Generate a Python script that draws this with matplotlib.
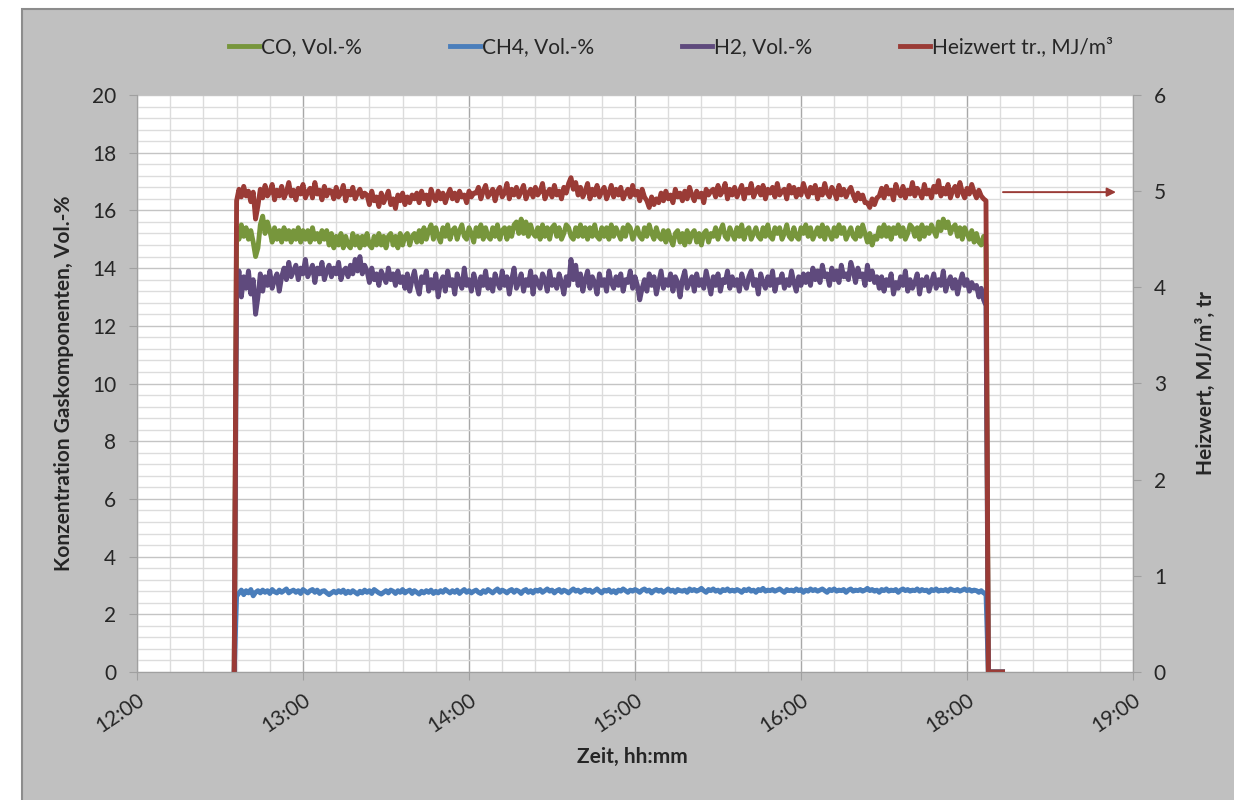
import numpy as np
import matplotlib.pyplot as plt
from matplotlib.patches import Rectangle
from matplotlib.lines import Line2D
from matplotlib.ticker import MultipleLocator, FixedLocator

plt.rcParams['font.family'] = ['Lato', 'DejaVu Sans']

# Zeitachse in Minuten ab 12:00
zeit_start = 42      # erster Messwert
zeit_ende = 358      # letzter Messwert
zeit_null_vor = 41   # Messung aus (0)
zeit_null_nach = 359
zeit_null_ende = 365

tick_minuten = [0, 70, 140, 210, 280, 350, 420]
tick_labels = ['12:00', '13:00', '14:00', '15:00', '16:00', '18:00', '19:00']

# CO, Vol.-%
co = [
    15.4, 15.0, 15.5, 15.1, 15.4, 15.0, 15.3, 14.9,
    14.4, 14.7,
    15.5, 15.8, 15.2, 15.6,
    15.3, 14.9, 15.4, 15.0, 15.3, 14.9, 15.4, 15.0, 15.3, 14.9, 15.3, 15.0, 15.4, 14.9, 15.3, 15.0, 15.3, 14.9, 15.4, 15.0,
    15.2, 14.9, 15.3, 15.0, 15.3,
    14.8, 15.2, 14.7, 15.1, 14.8, 15.2, 14.7, 15.1, 14.8, 14.7, 15.2, 14.8, 15.1, 14.7, 15.1, 14.8, 15.2, 14.8, 14.7, 15.1,
    14.8, 15.2, 14.8, 15.1, 14.7, 15.1, 15.2, 14.8, 15.1, 14.7, 15.2, 14.8, 15.1, 15.2, 14.8, 15.1, 15.2, 14.9, 15.3, 14.9,
    15.4, 15.0, 15.3, 15.5, 15.0, 15.4, 15.1, 14.9, 15.4, 15.1, 15.5, 15.0, 15.3, 15.4, 15.0, 15.3, 15.5, 15.1, 15.0, 15.4,
    15.2, 14.9, 15.4, 15.1, 15.5, 15.0, 15.4, 15.1, 15.0, 15.4, 15.1, 15.5, 15.0, 15.3, 15.4, 15.0, 15.4, 15.1, 15.5,
    15.6, 15.2, 15.7, 15.2, 15.6, 15.1, 15.5, 15.2,
    15.1, 15.4, 15.0, 15.5, 15.1, 15.4, 15.0, 15.4, 15.5, 15.1, 15.4, 15.0, 15.2, 15.5, 15.4, 15.1, 15.0, 15.4, 15.1, 15.5,
    15.1, 15.4, 15.0, 15.4, 15.1, 15.5, 15.1, 15.0, 15.4, 15.1, 15.4, 15.0, 15.5, 15.1, 15.4, 15.2, 15.0, 15.4, 15.1, 15.5,
    15.4, 15.0, 15.2, 15.4, 15.1, 15.0, 15.4, 15.1, 15.5, 15.2, 15.0, 15.4, 15.1, 15.0, 15.3,
    14.9, 15.3, 15.0, 14.8, 15.2, 15.3, 14.9, 15.2, 14.8, 15.3, 14.9, 15.2, 15.3, 14.9, 15.2, 14.8, 15.2, 15.3, 14.9, 15.2,
    15.1, 15.4, 15.0, 15.3, 15.5, 15.1, 15.0, 15.4, 15.2, 15.0, 15.4, 15.1, 15.5, 15.0, 15.3, 15.4, 15.0, 15.2, 15.4, 15.1,
    15.0, 15.4, 15.1, 15.5, 15.1, 15.0, 15.4, 15.2, 15.4, 15.0, 15.2, 15.5, 15.1, 15.0, 15.4, 15.1, 15.0, 15.4, 15.2, 15.5,
    15.1, 15.4, 15.0, 15.2, 15.4, 15.1, 15.5, 15.0, 15.4, 15.2, 15.0, 15.4, 15.1, 15.5, 15.2, 15.4, 15.0, 15.2, 15.4, 15.1,
    15.0, 15.4, 15.1, 15.5, 15.2,
    14.9, 15.2, 14.8, 15.1, 15.0,
    15.4, 15.1, 15.5, 15.1, 15.4, 15.0, 15.4, 15.2, 15.5, 15.1, 15.4, 15.0, 15.2, 15.5, 15.4, 15.1, 15.4, 15.0, 15.5, 15.1,
    15.4, 15.2, 15.5, 15.3, 15.1,
    15.6, 15.3, 15.7, 15.4, 15.6, 15.2,
    15.4, 15.5, 15.1, 15.4, 15.0, 15.4, 15.2, 15.0, 15.3, 14.9, 15.2, 14.9, 14.8, 15.1, 14.8,
]

# CH4, Vol.-%
ch4 = [
    2.62, 2.74, 2.84, 2.68, 2.82, 2.74, 2.86, 2.64, 2.76,
    2.82, 2.74, 2.84, 2.76, 2.82, 2.72, 2.86, 2.78, 2.74, 2.84, 2.76, 2.82, 2.88, 2.74, 2.80, 2.84, 2.76, 2.82, 2.72, 2.86,
    2.80, 2.74, 2.82, 2.86, 2.76, 2.84, 2.72, 2.80, 2.82, 2.74, 2.68, 2.74, 2.80, 2.74, 2.82, 2.76, 2.84, 2.72, 2.80, 2.74,
    2.82, 2.76, 2.70, 2.80, 2.74, 2.84, 2.76, 2.82, 2.72, 2.86, 2.80, 2.74, 2.70, 2.76, 2.82, 2.74, 2.84, 2.80, 2.72, 2.82,
    2.76, 2.86, 2.74, 2.80, 2.84, 2.72, 2.82, 2.76, 2.70, 2.80, 2.74, 2.82, 2.76, 2.84, 2.72, 2.80, 2.74, 2.82, 2.76, 2.86,
    2.80, 2.74, 2.82, 2.76, 2.84, 2.72, 2.80, 2.86, 2.76, 2.82, 2.74, 2.80, 2.84, 2.76, 2.72, 2.82, 2.76, 2.86, 2.80, 2.74,
    2.82, 2.88, 2.76, 2.84, 2.80, 2.74, 2.82, 2.86, 2.76, 2.84, 2.80, 2.72, 2.82, 2.86, 2.76, 2.82, 2.74, 2.84, 2.80, 2.86,
    2.76, 2.82, 2.88, 2.80, 2.84, 2.74, 2.82, 2.86, 2.76, 2.84, 2.80, 2.74, 2.82, 2.88, 2.80, 2.84, 2.76, 2.82, 2.86, 2.80,
    2.84, 2.76, 2.82, 2.88, 2.80, 2.74, 2.84, 2.80, 2.86, 2.76, 2.82, 2.74, 2.84, 2.80, 2.88, 2.82, 2.76, 2.84, 2.80, 2.86,
    2.82, 2.76, 2.84, 2.88, 2.80, 2.84, 2.74, 2.82, 2.86, 2.80, 2.84, 2.76, 2.82, 2.88, 2.80, 2.84, 2.76, 2.86, 2.82, 2.80,
    2.84, 2.76, 2.88, 2.82, 2.86, 2.80, 2.84, 2.90, 2.82, 2.76, 2.86, 2.82, 2.88, 2.80, 2.84, 2.76, 2.86, 2.82, 2.88, 2.80,
    2.84, 2.80, 2.86, 2.82, 2.76, 2.86, 2.82, 2.88, 2.80, 2.84, 2.76, 2.86, 2.82, 2.90, 2.80, 2.84, 2.82, 2.86, 2.80, 2.84,
    2.88, 2.82, 2.76, 2.86, 2.82, 2.84, 2.80, 2.88, 2.82, 2.86, 2.76, 2.84, 2.80, 2.88, 2.82, 2.86, 2.80, 2.84, 2.88, 2.82,
    2.76, 2.86, 2.82, 2.88, 2.80, 2.84, 2.82, 2.86, 2.76, 2.84, 2.88, 2.80, 2.84, 2.82, 2.86, 2.80, 2.84, 2.90, 2.82, 2.86,
    2.80, 2.84, 2.76, 2.86, 2.82, 2.88, 2.80, 2.84, 2.82, 2.86, 2.76, 2.84, 2.88, 2.82, 2.86, 2.80, 2.84, 2.82, 2.88, 2.80,
    2.86, 2.82, 2.84, 2.76, 2.86, 2.82, 2.88, 2.80, 2.84, 2.82, 2.86, 2.80, 2.88, 2.84, 2.82, 2.86, 2.80, 2.84, 2.88, 2.82,
    2.86, 2.80, 2.84, 2.82, 2.76, 2.82, 2.74, 2.72,
]

# H2, Vol.-%
h2 = [
    13.2, 13.9, 13.0, 13.7, 13.3, 13.9, 13.1, 13.6,
    12.4, 13.0,
    13.8, 13.2, 13.7, 13.4, 13.9, 13.3, 13.6, 13.8, 13.2, 13.7,
    14.0, 13.6, 14.2, 13.7, 13.9, 14.1, 13.6, 14.0, 13.8, 14.3, 13.7, 13.9, 14.1, 13.5, 14.0, 13.8, 14.2, 13.6, 13.9, 14.1,
    13.7, 14.0, 13.8, 14.2, 13.6, 13.9, 14.0, 13.7, 14.1, 13.8, 14.3, 13.9, 14.4, 13.8, 14.1,
    13.9, 13.5, 14.0, 13.6, 13.8, 13.4, 13.9, 13.7, 13.5, 14.0, 13.6, 13.8, 13.4, 13.9, 13.5, 13.7,
    13.3, 13.8, 13.2, 13.6, 13.9, 13.4, 13.1, 13.7, 13.5, 13.9, 13.2, 13.6, 13.3, 13.8, 13.0, 13.5, 13.7, 13.2, 13.9, 13.4,
    13.6, 13.1, 13.8, 13.5, 13.3, 14.0, 13.4, 13.6, 13.2, 13.8, 13.5, 13.1, 13.7, 13.4, 13.9, 13.3, 13.6, 13.2, 13.8, 13.5,
    13.3, 13.9, 13.4, 13.7, 13.1, 13.6, 14.0, 13.3, 13.5, 13.8, 13.2, 13.6, 13.4, 13.9, 13.1, 13.7, 13.5, 13.3, 13.8, 13.6,
    13.2, 13.9, 13.4, 13.6, 13.3, 13.8, 13.5, 13.1, 13.7, 13.4,
    14.3, 13.6, 14.1,
    13.4, 13.8, 13.2, 13.6, 13.9, 13.3, 13.7, 13.5, 13.1, 13.8, 13.4, 13.6, 13.2, 13.9, 13.5, 13.3, 13.7, 13.4, 13.8, 13.2,
    13.6, 13.5, 13.9, 13.3, 13.7, 13.4,
    12.9, 13.3,
    13.6, 13.2, 13.8, 13.4, 13.7, 13.1, 13.5, 13.9, 13.3, 13.6, 13.4, 13.8, 13.2, 13.7, 13.5, 13.0, 13.6, 13.9, 13.3, 13.5,
    13.7, 13.2, 13.8, 13.4, 13.6, 13.3, 13.9, 13.5, 13.1, 13.7, 13.4, 13.8, 13.2, 13.6, 13.5, 13.9, 13.3, 13.7, 13.4, 13.6,
    13.2, 13.8, 13.5, 13.3, 13.7, 13.9, 13.4, 13.6, 13.1, 13.8, 13.5, 13.3, 13.7, 13.4, 13.9, 13.2, 13.6, 13.5, 13.8, 13.3,
    13.6, 13.4, 13.9, 13.5, 13.2, 13.7, 13.4, 13.8, 13.5,
    13.8, 13.4, 14.0, 13.6, 13.9, 13.5, 14.1, 13.7, 13.8, 13.4, 14.0, 13.6, 13.9, 13.5, 14.1, 13.7, 13.8, 13.6, 14.2, 13.9,
    13.5, 14.0, 13.7, 13.8, 13.4, 14.1, 13.6, 13.9, 13.5, 13.7,
    13.3, 13.7, 13.2, 13.6, 13.4, 13.8, 13.1, 13.5, 13.3, 13.7, 13.4, 13.9, 13.2, 13.6, 13.3, 13.5, 13.8, 13.1, 13.6, 13.4,
    13.7, 13.2, 13.5, 13.8, 13.3, 13.6, 13.4, 13.9, 13.2, 13.5, 13.7, 13.3, 13.6, 13.1, 13.5, 13.8, 13.4, 13.6, 13.2, 13.5,
    13.3,
    13.4, 13.0, 13.3, 12.9, 12.7,
]

# Heizwert tr., MJ/m3 (rechte Achse)
heizwert = [
    4.90, 5.02, 4.94, 5.05, 4.95, 5.00, 4.89, 4.99,
    4.71, 4.85,
    5.02, 4.93, 5.06, 4.95, 4.99, 5.07, 4.91, 5.01, 4.95, 5.05, 4.93, 4.99, 5.09, 4.95, 5.01, 4.91, 5.03, 4.97, 5.07, 4.93,
    4.99, 5.03, 4.93, 5.09, 4.97, 5.01, 4.91, 5.05, 4.95, 5.01,
    5.00, 4.92, 5.04, 4.94, 4.98, 5.06, 4.90, 5.00, 4.96, 5.04, 4.92, 4.98, 5.02, 4.94, 4.98,
    4.96, 4.86, 5.00, 4.90, 4.94, 4.84, 4.98, 4.88, 4.94, 5.00, 4.86, 4.92, 4.82, 4.96, 4.90, 4.98, 4.86, 4.94, 4.88, 4.96,
    4.92,
    4.98, 4.88, 5.00, 4.92, 4.96, 4.86, 5.02, 4.94, 4.90, 5.00, 4.92, 4.98, 4.88, 4.96, 5.02, 4.92, 4.98, 4.90, 5.00, 4.94,
    4.96, 4.88, 5.00, 4.94, 4.98,
    4.98, 5.04, 4.92, 5.00, 5.06, 4.94, 4.98, 5.02, 4.90, 5.00, 5.04, 4.94, 4.98, 5.08, 4.92, 5.02, 4.96, 5.04, 4.94, 5.00,
    5.06, 4.92, 4.98, 5.02, 4.94, 5.04, 4.96, 5.00, 5.08, 4.92, 4.98, 5.02, 4.94, 5.06, 4.96, 5.00, 4.92, 5.04, 4.98, 5.08,
    5.14, 5.02, 5.09,
    4.96, 5.04, 4.94, 5.00, 5.08, 4.92, 5.02, 4.96, 5.06, 4.94, 5.00, 5.04, 4.92, 4.98, 5.06, 4.94, 5.02, 4.96, 5.04, 4.92,
    4.98, 5.02, 4.94, 5.06, 4.96, 5.00, 4.90, 5.02, 4.94,
    4.90, 4.83, 4.94, 4.86, 4.92, 4.88,
    4.98, 4.90, 5.00, 4.92, 4.96, 4.88, 5.02, 4.94, 4.98, 4.90, 5.00, 4.92, 5.04, 4.96, 4.90, 5.00, 4.94, 4.98, 4.88, 5.02,
    4.96, 5.00,
    5.02, 4.94, 5.06, 4.96, 5.00, 5.08, 4.92, 5.02, 4.96, 5.04, 4.94, 5.00, 5.06, 4.92, 5.02, 4.98, 5.08, 4.94, 5.00, 5.04,
    4.96, 5.06, 4.92, 5.02, 4.98, 5.04, 4.94, 5.08, 4.96, 5.00, 5.02, 4.92, 5.06, 4.98, 5.04, 4.94, 5.02, 4.96, 5.08, 5.00,
    4.94, 5.04, 4.98, 5.06, 4.92, 5.02, 4.96, 5.08, 4.98, 4.94, 5.04, 5.00, 4.92, 5.06, 4.96, 5.02, 4.94, 5.00, 5.04, 4.96,
    4.90, 4.98, 4.92, 4.96, 4.88,
    4.88, 4.83, 4.92, 4.86, 4.93,
    4.95, 5.03, 4.93, 5.05, 4.97, 5.01, 4.91, 5.07, 4.99, 4.95, 5.05, 4.93, 5.01, 4.97, 5.09, 4.95, 5.03, 4.99, 4.93, 5.07,
    4.97, 5.01, 4.93, 5.05, 4.99, 5.11, 4.95, 5.03, 4.97, 5.07, 4.93, 5.01, 5.05, 4.95, 5.09, 4.99, 4.93, 5.03, 4.97, 5.07,
    4.99, 4.93, 5.01, 4.95, 4.92, 4.90,
]

# Farben wie im Excel-Diagramm
gruen = '#77963c'
blau = '#4a7ebb'
lila = '#5f4a7d'
rot = '#9a3b36'
text_farbe = '#262626'
achsen_farbe = '#a0a0a0'
linienbreite = 3.5
schrift = 15


def mit_nullen(werte):
    # Messreihe mit 0 vor dem Start und nach dem Ende
    t = np.concatenate([[zeit_null_vor],
                        np.linspace(zeit_start, zeit_ende, len(werte)),
                        [zeit_null_nach, zeit_null_ende]])
    y = np.concatenate([[0], werte, [0, 0]])
    return t, y


fig = plt.figure(figsize=(12.34, 8), dpi=100)
fig.patch.set_facecolor('white')

# grauer Diagrammbereich
hintergrund = Rectangle((22 / 1234, -0.01), 1.0, 1 - 9 / 800 + 0.01, transform=fig.transFigure,
                        facecolor='#c0c0c0', edgecolor='#8c8c8c', linewidth=1.5, zorder=-10)
fig.patches.append(hintergrund)

ax = fig.add_axes([137 / 1234, 1 - 672 / 800, (1133 - 137) / 1234, (672 - 95) / 800])
ax.set_facecolor('white')
ax.set_xlim(0, 420)
ax.set_ylim(0, 20)

ax.xaxis.set_major_locator(FixedLocator(tick_minuten))
ax.set_xticklabels(tick_labels)
ax.xaxis.set_minor_locator(MultipleLocator(14))
ax.yaxis.set_major_locator(MultipleLocator(2))
ax.yaxis.set_minor_locator(MultipleLocator(0.4))

ax.set_axisbelow(True)
ax.grid(which='minor', color='#dcdcdc', linewidth=1.0)
ax.grid(which='major', axis='y', color='#c4c4c4', linewidth=1.0)
ax.grid(which='major', axis='x', color='#a8a8a8', linewidth=1.0)

for s in ['left', 'bottom', 'right']:
    ax.spines[s].set_color(achsen_farbe)
ax.spines['top'].set_visible(False)

ax.tick_params(which='major', direction='out', length=6, color=achsen_farbe,
               labelsize=schrift, labelcolor=text_farbe)
ax.tick_params(which='minor', length=0)
ax.tick_params(axis='y', pad=9)
ax.tick_params(axis='x', pad=7)
for lab in ax.get_xticklabels():
    lab.set_rotation(34)
    lab.set_ha('right')
    lab.set_va('top')
    lab.set_rotation_mode('anchor')

t, y = mit_nullen(co)
l_co, = ax.plot(t, y, color=gruen, linewidth=linienbreite, label='CO, Vol.-%')
t, y = mit_nullen(ch4)
l_ch4, = ax.plot(t, y, color=blau, linewidth=linienbreite, label='CH4, Vol.-%')
t, y = mit_nullen(h2)
l_h2, = ax.plot(t, y, color=lila, linewidth=linienbreite, label='H2, Vol.-%')

ax2 = ax.twinx()
ax2.set_ylim(0, 6)
ax2.yaxis.set_major_locator(MultipleLocator(1))
for s in ['left', 'bottom', 'right']:
    ax2.spines[s].set_color(achsen_farbe)
ax2.spines['top'].set_visible(False)
ax2.tick_params(direction='out', length=6, color=achsen_farbe, labelsize=schrift,
                labelcolor=text_farbe, pad=9)

t, y = mit_nullen(heizwert)
l_hw, = ax2.plot(t, y, color=rot, linewidth=linienbreite, label='Heizwert tr., MJ/m³')

# Pfeil zur rechten Achse
pfeil_von, pfeil_bis, pfeil_hoehe = 364, 414, 4.99
ax2.annotate('', xy=(pfeil_bis, pfeil_hoehe), xytext=(pfeil_von, pfeil_hoehe),
             arrowprops=dict(arrowstyle='-|>', color=rot, lw=1.4, mutation_scale=13))

ax.set_xlabel('Zeit, hh:mm', fontsize=schrift, fontweight='bold', color=text_farbe)
ax.xaxis.set_label_coords(0.497, -0.13)
ax.set_ylabel('Konzentration Gaskomponenten, Vol.-%', fontsize=schrift, fontweight='bold', color=text_farbe)
ax.yaxis.set_label_coords(-0.063, 0.5)
ax2.set_ylabel('Heizwert, MJ/m³, tr', fontsize=schrift, fontweight='bold', color=text_farbe, rotation=90)
ax2.yaxis.set_label_coords(1.063, 0.5)

# Legende oben
handles = [Line2D([], [], color=l.get_color(), linewidth=3.5) for l in [l_co, l_ch4, l_h2, l_hw]]
labels = [l.get_label() for l in [l_co, l_ch4, l_h2, l_hw]]
fig.legend(handles, labels, loc='center', bbox_to_anchor=(671 / 1234, 1 - 47 / 800), ncol=4,
           frameon=False, fontsize=schrift, handlelength=1.45, handletextpad=0.1, columnspacing=4.2,
           labelcolor=text_farbe)

plt.savefig('out.png', dpi=100)
